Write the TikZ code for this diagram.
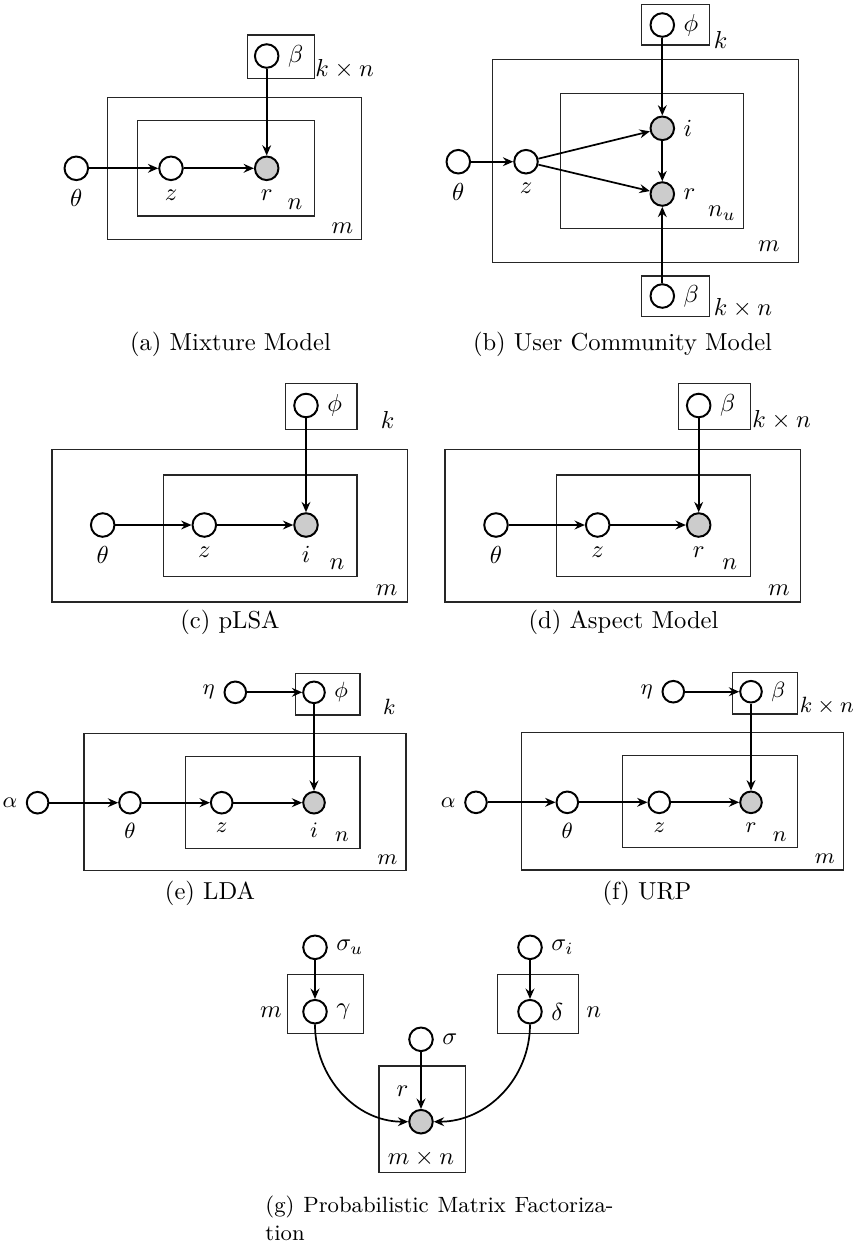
\documentclass[tikz,border=0pt]{standalone}
\usetikzlibrary{arrows.meta}
\begin{document}
\begin{tikzpicture}[x=0.4072pt,y=-0.4072pt,
  lat/.style={circle,draw,line width=0.8pt,fill=white,minimum size=9.6pt,inner sep=0pt},
  obs/.style={lat,fill=gray!40},
  slat/.style={lat,minimum size=8.8pt},
  sobs/.style={slat,fill=gray!40},
  plate/.style={draw=black!85,line width=0.45pt},
  arr/.style={-{Stealth[length=4.2pt,width=3.6pt,inset=1.4pt]},line width=0.7pt},
  lbl/.style={inner sep=0pt},
  sl/.style={font=\small},
  captxt/.style={inner sep=0pt,anchor=base}]
\useasboundingbox (0,0) rectangle (857,1245);

% ---------------- (a) Mixture Model ----------------
\draw[plate] (247.3,35) rectangle (314.3,78.3);
\draw[plate] (107.3,97.3) rectangle (361.7,239.3);
\draw[plate] (137.7,120.7) rectangle (314.3,216);
\node[lat] (aB) at (266.7,56) {};
\node[anchor=west] (aBl) at (aB.east) {$\beta$};
\node[lbl,anchor=base west] (aKN) at (315,76.7) {$k\times n$};
\node[lat] (aT) at (76.3,168.3) {};
\node[lat] (aZ) at (171,168.3) {};
\node[obs] (aR) at (266.7,168.3) {};
\node[anchor=north] (aTl) at (aT.south) {$\theta$};
\node[anchor=north] (aZl) at (aZ.south) {$z$};
\node[anchor=north] (aRl) at (aR.south) {$r$};
\node[lbl,anchor=base] (aN) at (295,209.3) {$n$};
\node[lbl,anchor=base] (aM) at (342.5,233.3) {$m$};
\draw[arr] (aT) -- (aZ);
\draw[arr] (aZ) -- (aR);
\draw[arr] (aB) -- (aR);
\node[captxt] (capa) at (230.5,350) {(a) Mixture Model};

% ---------------- (b) User Community Model ----------------
\draw[plate] (641.3,4.7) rectangle (709.3,45);
\draw[plate] (492.3,59.3) rectangle (798.3,262.3);
\draw[plate] (560.3,93.3) rectangle (743.3,228.7);
\draw[plate] (641.3,276) rectangle (709.3,316.7);
\node[lat] (bP) at (662.3,25) {};
\node[anchor=west] (bPl) at (bP.east) {$\phi$};
\node[lbl,anchor=base west] (bK) at (713.3,48) {$k$};
\node[obs] (bI) at (662.3,128.3) {};
\node[obs] (bR) at (662.3,194) {};
\node[anchor=west] (bIl) at (bI.east) {$i$};
\node[anchor=west] (bRl) at (bR.east) {$r$};
\node[lat] (bZ) at (526,161.7) {};
\node[lat] (bT) at (458.3,161.7) {};
\node[anchor=north] (bZl) at (bZ.south) {$z$};
\node[anchor=north] (bTl) at (bT.south) {$\theta$};
\node[lbl,anchor=base] (bN) at (722,216.7) {$n_u$};
\node[lbl,anchor=base] (bM) at (769,251.7) {$m$};
\node[lat] (bB) at (662.3,296) {};
\node[anchor=west] (bBl) at (bB.east) {$\beta$};
\node[lbl,anchor=base west] (bKN) at (713.3,315) {$k\times n$};
\draw[arr] (bT) -- (bZ);
\draw[arr] (bZ) -- (bI);
\draw[arr] (bZ) -- (bR);
\draw[arr] (bP) -- (bI);
\draw[arr] (bI) -- (bR);
\draw[arr] (bB) -- (bR);
\node[captxt] (capb) at (622.5,350) {(b) User Community Model};

% ---------------- (c) pLSA ----------------
\draw[plate] (285.3,383.5) rectangle (357,429.3);
\draw[plate] (52,449.5) rectangle (407.7,602);
\draw[plate] (163.3,475) rectangle (357,576.5);
\node[lat] (cP) at (306,405.5) {};
\node[anchor=west] (cPl) at (cP.east) {$\phi$};
\node[lbl,anchor=base west] (cK) at (380.3,428) {$k$};
\node[lat] (cT) at (102.7,525) {};
\node[lat] (cZ) at (204.3,525) {};
\node[obs] (cI) at (306,525) {};
\node[anchor=north] (cTl) at (cT.south) {$\theta$};
\node[anchor=north] (cZl) at (cZ.south) {$z$};
\node[anchor=north] (cIl) at (cI.south) {$i$};
\node[lbl,anchor=base] (cN) at (337,569) {$n$};
\node[lbl,anchor=base] (cM) at (386.7,595.5) {$m$};
\draw[arr] (cT) -- (cZ);
\draw[arr] (cZ) -- (cI);
\draw[arr] (cP) -- (cI);
\node[captxt] (capc) at (230,628) {(c) pLSA};

% ---------------- (d) Aspect Model ----------------
\draw[plate] (678.7,383.5) rectangle (750.7,429.3);
\draw[plate] (445,449.5) rectangle (800.7,602);
\draw[plate] (556.7,475) rectangle (750.7,576.5);
\node[lat] (dB) at (698.7,405.5) {};
\node[anchor=west] (dBl) at (dB.east) {$\beta$};
\node[lbl,anchor=base west] (dKN) at (752,427) {$k\times n$};
\node[lat] (dT) at (496,525) {};
\node[lat] (dZ) at (597.7,525) {};
\node[obs] (dR) at (698.7,525) {};
\node[anchor=north] (dTl) at (dT.south) {$\theta$};
\node[anchor=north] (dZl) at (dZ.south) {$z$};
\node[anchor=north] (dRl) at (dR.south) {$r$};
\node[lbl,anchor=base] (dN) at (729.7,569) {$n$};
\node[lbl,anchor=base] (dM) at (779,595.5) {$m$};
\draw[arr] (dT) -- (dZ);
\draw[arr] (dZ) -- (dR);
\draw[arr] (dB) -- (dR);
\node[captxt] (capd) at (623.5,628) {(d) Aspect Model};

% ---------------- (e) LDA ----------------
\draw[plate] (295.7,673.3) rectangle (360,715);
\draw[plate] (84,733.3) rectangle (406,870.7);
\draw[plate] (185.3,756.7) rectangle (360,848.3);
\node[slat] (eP) at (314,692.3) {};
\node[sl,anchor=west] (ePl) at (eP.east) {$\phi$};
\node[slat] (eE) at (235.3,692.3) {};
\node[sl,anchor=east] (eEl) at (eE.west) {$\eta$};
\node[sl,lbl,anchor=base west] (eK) at (382.7,714) {$k$};
\node[slat] (eA) at (37.6,802.7) {};
\node[sl,anchor=east] (eAl) at (eA.west) {$\alpha$};
\node[slat] (eT) at (130,802.7) {};
\node[slat] (eZ) at (221.7,802.7) {};
\node[sobs] (eI) at (314,802.7) {};
\node[sl,anchor=north] (eTl) at (eT.south) {$\theta$};
\node[sl,anchor=north] (eZl) at (eZ.south) {$z$};
\node[sl,anchor=north] (eIl) at (eI.south) {$i$};
\node[sl,lbl,anchor=base] (eN) at (342,841) {$n$};
\node[sl,lbl,anchor=base] (eM) at (387.5,864) {$m$};
\draw[arr] (eE) -- (eP);
\draw[arr] (eP) -- (eI);
\draw[arr] (eA) -- (eT);
\draw[arr] (eT) -- (eZ);
\draw[arr] (eZ) -- (eI);
\node[captxt] (cape) at (210,899.3) {(e) LDA};

% ---------------- (f) URP ----------------
\draw[plate] (732.7,672.3) rectangle (797.7,714);
\draw[plate] (521.7,732.7) rectangle (843.3,870);
\draw[plate] (622.7,755.7) rectangle (797.7,847.3);
\node[slat] (fB) at (751,691.7) {};
\node[sl,anchor=west] (fBl) at (fB.east) {$\beta$};
\node[slat] (fE) at (673.3,691.7) {};
\node[sl,anchor=east] (fEl) at (fE.west) {$\eta$};
\node[sl,lbl,anchor=base west] (fKN) at (799.3,712) {$k\times n$};
\node[slat] (fA) at (476,802.3) {};
\node[sl,anchor=east] (fAl) at (fA.west) {$\alpha$};
\node[slat] (fT) at (567.3,802.3) {};
\node[slat] (fZ) at (659.3,802.3) {};
\node[sobs] (fR) at (751,802.3) {};
\node[sl,anchor=north] (fTl) at (fT.south) {$\theta$};
\node[sl,anchor=north] (fZl) at (fZ.south) {$z$};
\node[sl,anchor=north] (fRl) at (fR.south) {$r$};
\node[sl,lbl,anchor=base] (fN) at (779.7,841.7) {$n$};
\node[sl,lbl,anchor=base] (fM) at (825,863.3) {$m$};
\draw[arr] (fE) -- (fB);
\draw[arr] (fB) -- (fR);
\draw[arr] (fA) -- (fT);
\draw[arr] (fT) -- (fZ);
\draw[arr] (fZ) -- (fR);
\node[captxt] (capf) at (647,899.3) {(f) URP};

% ---------------- (g) PMF ----------------
\draw[plate] (287.7,974.3) rectangle (363.3,1033.3);
\draw[plate] (497.7,974.3) rectangle (578.3,1033.3);
\draw[plate] (379,1066) rectangle (465.3,1172.7);
\node[lat] (gSu) at (315,947.3) {};
\node[anchor=west] (gSul) at (gSu.east) {$\sigma_u$};
\node[lat] (gSi) at (530,947.3) {};
\node[anchor=west] (gSil) at (gSi.east) {$\sigma_i$};
\node[lat] (gG) at (315,1011.7) {};
\node[anchor=west] (gGl) at (gG.east) {$\gamma$};
\node[lat] (gD) at (530,1011.7) {};
\node[anchor=west] (gDl) at (gD.east) {$\delta$};
\node[lbl,anchor=base] (gM) at (270.8,1017.3) {$m$};
\node[lbl,anchor=base] (gN) at (593.8,1017.3) {$n$};
\node[lat] (gS) at (421,1039.3) {};
\node[anchor=west] (gSl) at (gS.east) {$\sigma$};
\node[obs] (gR) at (421,1121.7) {};
\node[lbl,anchor=base] (gRl) at (402.5,1096.7) {$r$};
\node[lbl,anchor=base] (gMN) at (421,1164) {$m\times n$};
\draw[arr] (gSu) -- (gG);
\draw[arr] (gSi) -- (gD);
\draw[arr] (gS) -- (gR);
\draw[arr] (gG.south) to[out=-90,in=180] (gR.west);
\draw[arr] (gD.south) to[out=-90,in=0] (gR.east);
\node[inner sep=0pt,anchor=base west,font=\fontsize{9}{11}\selectfont] (capg) at (265,1212) {\makebox[141.7pt][s]{(g) Probabilistic Matrix Factoriza-}};
\node[inner sep=0pt,anchor=base west,font=\fontsize{9}{11}\selectfont] (capg2) at (265,1240) {tion};
\end{tikzpicture}
\end{document}
